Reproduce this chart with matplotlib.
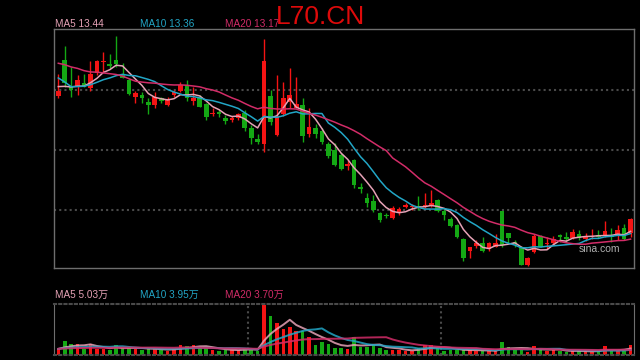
import numpy as np
import matplotlib.pyplot as plt

# closes before the first visible day (only feed the moving averages)
pre_close = [19.2, 19.5, 19.3, 19.6, 19.4, 19.1, 19.5, 19.3, 19.4, 19.5,
             19.6, 19.55, 18.3, 18.0, 18.0, 18.2, 18.1, 18.2, 18.1]

opens = [17.81, 19.00, 18.13, 18.11, 18.22, 18.06, 18.56, 18.93, 18.86, 19.00,
         18.50, 18.33, 17.78, 17.83, 17.61, 17.50, 17.72, 17.50, 17.83, 17.98,
         18.17, 17.63, 17.78, 17.52, 17.19, 17.27, 17.08, 17.00, 17.08, 17.22,
         16.74, 16.37, 16.19, 17.80, 16.50, 17.19, 17.59, 17.39, 17.50, 16.52,
         16.74, 16.63, 16.20, 16.00, 15.83, 15.47, 15.67, 14.78, 14.41, 14.31,
         13.91, 13.83, 13.72, 13.94, 14.11, 14.09, 14.13, 14.09, 14.13, 14.33,
         13.98, 13.69, 13.50, 13.02, 12.64, 12.80, 12.91, 12.69, 12.78, 13.98,
         13.22, 12.94, 12.78, 12.17, 12.61, 13.13, 12.88, 12.89, 13.17, 13.11,
         13.06, 13.20, 13.02, 13.09, 13.17, 13.13, 13.17, 13.20, 13.41, 13.22]
highs = [18.52, 19.47, 18.78, 18.50, 18.52, 18.97, 19.00, 19.28, 19.20, 19.80,
         18.89, 18.40, 17.97, 17.94, 17.72, 17.94, 17.78, 17.78, 18.00, 18.26,
         18.33, 18.09, 17.83, 17.56, 17.39, 17.33, 17.17, 17.13, 17.23, 17.33,
         16.83, 16.52, 19.69, 18.00, 18.50, 18.28, 18.72, 18.44, 17.72, 17.41,
         16.86, 16.72, 16.27, 16.22, 15.90, 15.67, 15.69, 14.89, 14.56, 14.50,
         13.94, 13.91, 14.13, 14.11, 14.24, 14.20, 14.47, 14.56, 14.67, 14.36,
         14.02, 13.76, 13.53, 13.06, 12.78, 13.00, 13.09, 12.94, 13.20, 13.98,
         13.24, 13.00, 12.80, 12.44, 13.20, 13.17, 13.09, 13.13, 13.20, 13.28,
         13.36, 13.33, 13.22, 13.36, 13.33, 13.64, 13.39, 13.50, 13.53, 13.72]
lows = [17.74, 18.11, 17.78, 17.83, 18.10, 17.97, 18.50, 18.61, 18.72, 18.77,
        18.39, 17.83, 17.56, 17.56, 17.19, 17.41, 17.57, 17.48, 17.78, 17.94,
        17.63, 17.50, 17.42, 17.00, 17.14, 17.11, 16.86, 16.94, 17.00, 16.63,
        16.19, 16.19, 15.94, 16.83, 16.48, 17.14, 17.39, 17.39, 16.28, 16.44,
        16.41, 16.19, 15.73, 15.47, 15.33, 15.33, 14.72, 14.58, 14.09, 13.94,
        13.61, 13.72, 13.69, 13.83, 14.06, 14.00, 14.00, 14.06, 14.09, 13.94,
        13.67, 13.42, 13.06, 12.31, 12.39, 12.72, 12.61, 12.64, 12.76, 12.78,
        12.91, 12.78, 12.17, 12.13, 12.58, 12.76, 12.69, 12.83, 12.94, 12.94,
        13.02, 13.00, 12.98, 13.02, 13.06, 13.09, 12.94, 13.00, 13.00, 13.11]
closes = [17.97, 18.24, 18.00, 18.33, 18.11, 18.53, 18.97, 18.98, 18.79, 18.86,
          18.41, 17.87, 17.89, 17.74, 17.50, 17.78, 17.63, 17.70, 17.94, 18.17,
          17.72, 17.74, 17.44, 17.11, 17.22, 17.21, 16.98, 17.06, 17.19, 16.74,
          16.41, 16.28, 18.97, 16.94, 17.11, 17.74, 17.83, 17.52, 16.48, 16.77,
          16.54, 16.26, 15.80, 15.50, 15.36, 15.53, 14.83, 14.69, 14.24, 14.00,
          13.67, 13.80, 14.06, 14.02, 14.16, 14.13, 14.09, 14.16, 14.22, 13.98,
          13.83, 13.47, 13.09, 12.39, 12.76, 12.89, 12.64, 12.89, 12.89, 12.83,
          13.06, 12.87, 12.17, 12.39, 13.13, 12.78, 12.90, 13.02, 13.09, 13.02,
          13.28, 13.06, 13.13, 13.13, 13.11, 13.31, 13.09, 13.33, 13.02, 13.69]

# volume in 万
pre_vol = [4.5, 5.0, 4.0, 5.5, 4.0, 4.5, 5.0, 4.0, 4.5, 5.0,
           4.5, 4.0, 5.0, 4.5, 4.0, 5.0, 4.5, 5.0, 4.0]
volume = [4.5, 10.5, 8.3, 8.3, 4.5, 8.0, 4.5, 4.5, 3.8, 7.5,
          5.0, 5.5, 4.5, 3.8, 5.0, 4.5, 3.8, 3.0, 4.5, 7.5,
          6.8, 7.5, 6.0, 5.0, 3.8, 3.0, 3.8, 3.8, 3.8, 5.5,
          3.8, 3.0, 37.5, 28.7, 24.2, 19.7, 21.2, 18.0, 17.6, 13.7,
          7.5, 10.0, 8.3, 5.5, 5.5, 4.5, 13.7, 6.2, 6.2, 7.5,
          5.5, 3.8, 3.8, 3.8, 3.0, 3.0, 5.5, 7.5, 7.5, 5.0,
          3.0, 3.8, 3.8, 3.8, 3.8, 3.0, 3.0, 3.0, 3.0, 9.8,
          5.8, 3.8, 3.8, 2.3, 6.8, 4.3, 3.0, 3.8, 3.0, 2.3,
          3.0, 3.0, 3.0, 2.3, 3.0, 6.8, 3.0, 3.0, 3.8, 7.5]

title = "L70.CN"
ma_labels = ["MA5 13.44", "MA10 13.36", "MA20 13.17"]
vol_labels = ["MA5 5.03万", "MA10 3.95万", "MA20 3.70万"]

RED = '#f41414'
GREEN = '#14a814'
MA_COLORS = ['#e6a2b6', '#22a6c6', '#d22c68']
FRAME = '#6e6e6e'
GRID = '#4a4a4a'
DOTS = (0, (1, 1.5))
FONT = ['Liberation Sans', 'Noto Sans CJK SC']


def moving_avg(pre, vals, n):
    full = np.array(pre + vals, dtype=float)
    out = np.convolve(full, np.ones(n) / n, mode='valid')
    return out[-len(vals):]


o = np.array(opens)
c = np.array(closes)
x = np.arange(len(closes))
up = c >= o
colors = np.where(up, RED, GREEN)

fig = plt.figure(figsize=(6.4, 3.6), dpi=100, facecolor='black')
ax = fig.add_axes([54 / 640, 92 / 360, 580 / 640, 239 / 360], facecolor='black')
axv = fig.add_axes([54 / 640, 5 / 360, 580 / 640, 51 / 360], facecolor='black')

xlim = (-0.67, 89.53)

# price panel
for y in (14, 16, 18):
    ax.axhline(y, color=GRID, lw=1.5, ls=DOTS, zorder=0)
ax.vlines(x, lows, highs, colors=colors, lw=1, zorder=2)
body = np.maximum(np.abs(c - o), 0.02)
ax.bar(x, body, bottom=np.minimum(o, c), width=0.72, color=colors, lw=0, zorder=3)
for n, col in zip((5, 10, 20), MA_COLORS):
    ax.plot(x, moving_avg(pre_close, closes, n), color=col, lw=1.1, zorder=4)
ax.set_xlim(*xlim)
ax.set_ylim(21 - 268 / 30, 21 - 29 / 30)
ax.set_xticks([])
ax.set_yticks([])
for s in ax.spines.values():
    s.set_color(FRAME)
    s.set_linewidth(1)
ax.text(0.94, 0.08, "sina.com", transform=ax.transAxes, color='#b0b0b0',
        fontsize=7.5, family=FONT, ha='center', va='center')

# volume panel
axv.bar(x, volume, width=0.55, color=colors, lw=0, zorder=2)
for n, col in zip((5, 10, 20), MA_COLORS):
    axv.plot(x, moving_avg(pre_vol, volume, n), color=col, lw=1.4, alpha=0.85, zorder=3)
for xv in (29.5, 59.5):
    axv.axvline(xv, color=GRID, lw=1.5, ls=DOTS, zorder=1)
axv.set_xlim(*xlim)
axv.set_ylim(0, 38)
axv.set_xticks([])
axv.set_yticks([])
for side in ('left', 'right'):
    axv.spines[side].set_color(FRAME)
for side in ('top', 'bottom'):
    axv.spines[side].set_color(GRID)
    axv.spines[side].set_linewidth(1.5)
    axv.spines[side].set_linestyle(DOTS)

# labels
for lbl, col, px in zip(ma_labels, MA_COLORS, (55, 140, 225)):
    fig.text(px / 640, 1 - 24 / 360, lbl, color=col, fontsize=7.2, family=FONT,
             ha='left', va='center')
for lbl, col, px in zip(vol_labels, MA_COLORS, (55, 140, 225)):
    fig.text(px / 640, 1 - 295 / 360, lbl, color=col, fontsize=7.2, family=FONT,
             ha='left', va='center')
fig.text(320 / 640, 1 - 17 / 360, title, color='#dd0a0a', fontsize=19,
         family=FONT, ha='center', va='center')

fig.savefig('out.png', dpi=100, facecolor='black')
